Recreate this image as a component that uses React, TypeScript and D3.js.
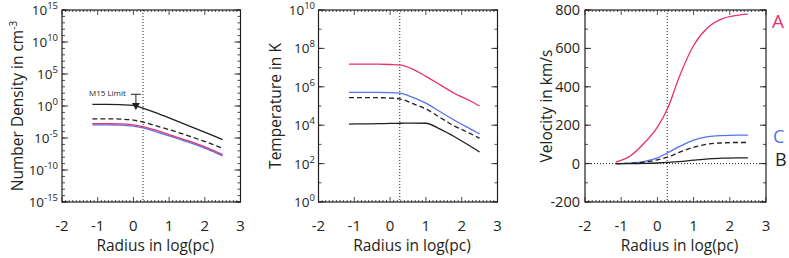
import React from 'react';
import * as d3 from 'd3';

// shared radius grid, log(pc)
const radius = [-1.15, -0.75, -0.35, 0, 0.3, 0.6, 1.0, 1.4, 1.8, 2.2, 2.5];
const xTicks = [-2, -1, 0, 1, 2, 3];
const markerRadius = 0.27;

// number density, cm^-3
const densityB = [1.8, 1.8, 1.6, 1.26, 0.4, 0.1, 1.4e-2, 1.8e-3, 2.2e-4, 2.8e-5, 5.6e-6];
const densityMid = [1e-2, 1e-2, 8.9e-3, 6.3e-3, 2.8e-3, 8.9e-4, 2e-4, 4e-5, 7e-6, 1.1e-6, 2.5e-7];
const densityA = [1.74e-3, 1.7e-3, 1.6e-3, 1.1e-3, 5.6e-4, 1.8e-4, 3.5e-5, 6.3e-6, 1.1e-6, 1.4e-7, 2.5e-8];
const densityC = [1.1e-3, 1.1e-3, 1e-3, 7e-4, 3.5e-4, 1.1e-4, 2.2e-5, 4e-6, 7e-7, 9e-8, 1.6e-8];
const densityTicks = [15, 10, 5, 0, -5, -10, -15];
// M15 upper limit: radius, cap, arrow tip
const m15Limit = { r: 0.07, top: 68, tip: 0.24 };

// temperature, K
const tempB = [1.15e4, 1.17e4, 1.2e4, 1.23e4, 1.26e4, 1.29e4, 1.26e4, 6.2e3, 2.5e3, 9e2, 4e2];
const tempMid = [2.7e5, 2.7e5, 2.7e5, 2.6e5, 2.3e5, 1.4e5, 7e4, 2.5e4, 9e3, 4e3, 2.1e3];
const tempA = [1.5e7, 1.5e7, 1.5e7, 1.45e7, 1.35e7, 8.9e6, 3.5e6, 1.26e6, 4.5e5, 2e5, 1e5];
const tempC = [5.1e5, 5.1e5, 5.1e5, 5e5, 4.5e5, 3e5, 1.4e5, 5e4, 1.8e4, 7e3, 3.5e3];
const tempTicks = [10, 8, 6, 4, 2, 0];

// velocity, km/s
const velB = [0, 0, 1, 3, 6, 10, 18, 25, 28, 30, 30];
const velMid = [0, 2, 8, 20, 35, 58, 85, 102, 108, 110, 110];
const velA = [8, 40, 110, 190, 295, 450, 615, 710, 755, 772, 778];
const velC = [0, 3, 12, 30, 58, 88, 122, 140, 146, 148, 148];
const velTicks = [800, 600, 400, 200, 0, -200];

const PINK = '#e8326f';
const BLUE = '#5273ee';
const INK = '#231f20';
const FONT = '"Open Sans", sans-serif';

type Series = { values: number[]; color: string; dash?: string };

function Panel({ left, right, yScale, series, yTickLabels, title, titleX, labelEnd, minorY, zeroLine, children }: any) {
  const top = 10, bottom = 202;
  const x = d3.scaleLinear().domain([-2, 3]).range([left, right]);
  const y = yScale.range([bottom, top]);
  const line = (vals: number[]) =>
    d3.line<number>().x((_, i) => x(radius[i])).y(d => y(d)).curve(d3.curveMonotoneX)(vals) || '';
  const minorX = d3.range(-2, 3.001, 0.1);
  return (
    <g>
      {/* minor/major ticks on x */}
      {minorX.map((v, i) => {
        const major = Math.abs(v - Math.round(v)) < 1e-6;
        const len = major ? 5 : 2;
        return (
          <g key={'xt' + i} stroke={INK} strokeWidth={0.8}>
            <line x1={x(v)} x2={x(v)} y1={bottom} y2={bottom - len} />
            <line x1={x(v)} x2={x(v)} y1={top} y2={top + len} />
          </g>
        );
      })}
      {minorY.map((v: number, i: number) => (
        <g key={'yt' + i} stroke={INK} strokeWidth={0.8}>
          <line x1={left} x2={left + 3} y1={y(v)} y2={y(v)} />
          <line x1={right} x2={right - 3} y1={y(v)} y2={y(v)} />
        </g>
      ))}
      {yTickLabels.map((t: any, i: number) => (
        <g key={'yl' + i} stroke={INK} strokeWidth={0.9}>
          <line x1={left} x2={left + 6} y1={y(t.v)} y2={y(t.v)} />
          <line x1={right} x2={right - 6} y1={y(t.v)} y2={y(t.v)} />
        </g>
      ))}
      {/* dotted marker lines */}
      <line x1={x(markerRadius)} x2={x(markerRadius)} y1={top} y2={bottom}
        stroke={INK} strokeWidth={1} strokeDasharray="1,2" />
      {zeroLine && (
        <line x1={left} x2={right} y1={y(0)} y2={y(0)} stroke={INK} strokeWidth={1} strokeDasharray="1,2" />
      )}
      {series.map((s: Series, i: number) => (
        <path key={'s' + i} d={line(s.values)} fill="none" stroke={s.color}
          strokeWidth={1.3} strokeDasharray={s.dash} />
      ))}
      <rect x={left} y={top} width={right - left} height={bottom - top} fill="none" stroke={INK} strokeWidth={1.2} />
      {/* tick labels */}
      {xTicks.map(t => (
        <text key={'xl' + t} x={x(t)} y={231} textAnchor="middle" fontSize={15} fill={INK} fontFamily={FONT}>
          {t < 0 ? '-' + Math.abs(t) : t}
        </text>
      ))}
      {yTickLabels.map((t: any, i: number) => (
        <text key={'ylt' + i} x={labelEnd} y={y(t.v) + 5} textAnchor="end" fontSize={t.sup !== undefined ? 13.5 : 14.5}
          fill={INK} fontFamily={FONT}>
          {t.sup !== undefined ? (
            <>
              <tspan>10</tspan>
              <tspan dy={-6} fontSize={9.5}>{t.sup}</tspan>
            </>
          ) : t.label}
        </text>
      ))}
      <text x={(left + right) / 2 + 4} y={251} textAnchor="middle" fontSize={15.5} fill={INK} fontFamily={FONT}>
        Radius in log(pc)
      </text>
      <text transform={`translate(${titleX},${(top + bottom) / 2}) rotate(-90)`} textAnchor="middle"
        fontSize={15.5} fill={INK} fontFamily={FONT} dy="0.35em">
        {title}
      </text>
      {children && children(x, y)}
    </g>
  );
}

export default function App() {
  const densScale = d3.scaleLog().domain([1e-15, 1e15]);
  const tempScale = d3.scaleLog().domain([1, 1e10]);
  const velScale = d3.scaleLinear().domain([-200, 800]);

  const setOf = (b: number[], mid: number[], a: number[], c: number[]): Series[] => [
    { values: c, color: BLUE },
    { values: a, color: PINK },
    { values: mid, color: INK, dash: '5,3' },
    { values: b, color: INK },
  ];

  return (
    <svg width={789} height={258} style={{ position: 'absolute', left: 0, top: 0, background: '#fff' }}>
      <Panel left={62} right={240.5} yScale={densScale}
        series={setOf(densityB, densityMid, densityA, densityC)}
        yTickLabels={densityTicks.map(e => ({ v: Math.pow(10, e), sup: e }))}
        minorY={d3.range(-15, 16).map(e => Math.pow(10, e))}
        title={<><tspan>Number Density in cm</tspan><tspan dy={-6} fontSize={10}>-3</tspan></>}
        titleX={18} labelEnd={58}>
        {(x: any, y: any) => (
          <g>
            <text x={x(m15Limit.r) - 10} y={y(m15Limit.top) + 2} textAnchor="end" fontSize={8} fill={INK} fontFamily={FONT}>
              M15 Limit
            </text>
            <line x1={x(m15Limit.r) - 5} x2={x(m15Limit.r) + 5} y1={y(m15Limit.top)} y2={y(m15Limit.top)} stroke={INK} strokeWidth={1} />
            <line x1={x(m15Limit.r)} x2={x(m15Limit.r)} y1={y(m15Limit.top)} y2={y(m15Limit.tip) - 5} stroke={INK} strokeWidth={1} />
            <path d={`M${x(m15Limit.r) - 4},${y(m15Limit.tip) - 7}L${x(m15Limit.r) + 4},${y(m15Limit.tip) - 7}L${x(m15Limit.r)},${y(m15Limit.tip)}Z`} fill={INK} />
          </g>
        )}
      </Panel>
      <Panel left={318.5} right={497.5} yScale={tempScale}
        series={setOf(tempB, tempMid, tempA, tempC)}
        yTickLabels={tempTicks.map(e => ({ v: Math.pow(10, e), sup: e }))}
        minorY={d3.range(0, 11).map(e => Math.pow(10, e))}
        title="Temperature in K" titleX={276} labelEnd={315} />
      <Panel left={585} right={766} yScale={velScale}
        series={setOf(velB, velMid, velA, velC)}
        yTickLabels={velTicks.map(v => ({ v, label: v < 0 ? '-' + Math.abs(v) : String(v) }))}
        minorY={d3.range(-200, 801, 100)}
        title="Velocity in km/s" titleX={547} labelEnd={580} zeroLine />
      <text x={772} y={28} fontSize={19} fill={PINK} fontFamily={FONT}>A</text>
      <text x={773} y={143} fontSize={18} fill={BLUE} fontFamily={FONT}>C</text>
      <text x={775} y={166} fontSize={18} fill={INK} fontFamily={FONT}>B</text>
    </svg>
  );
}
